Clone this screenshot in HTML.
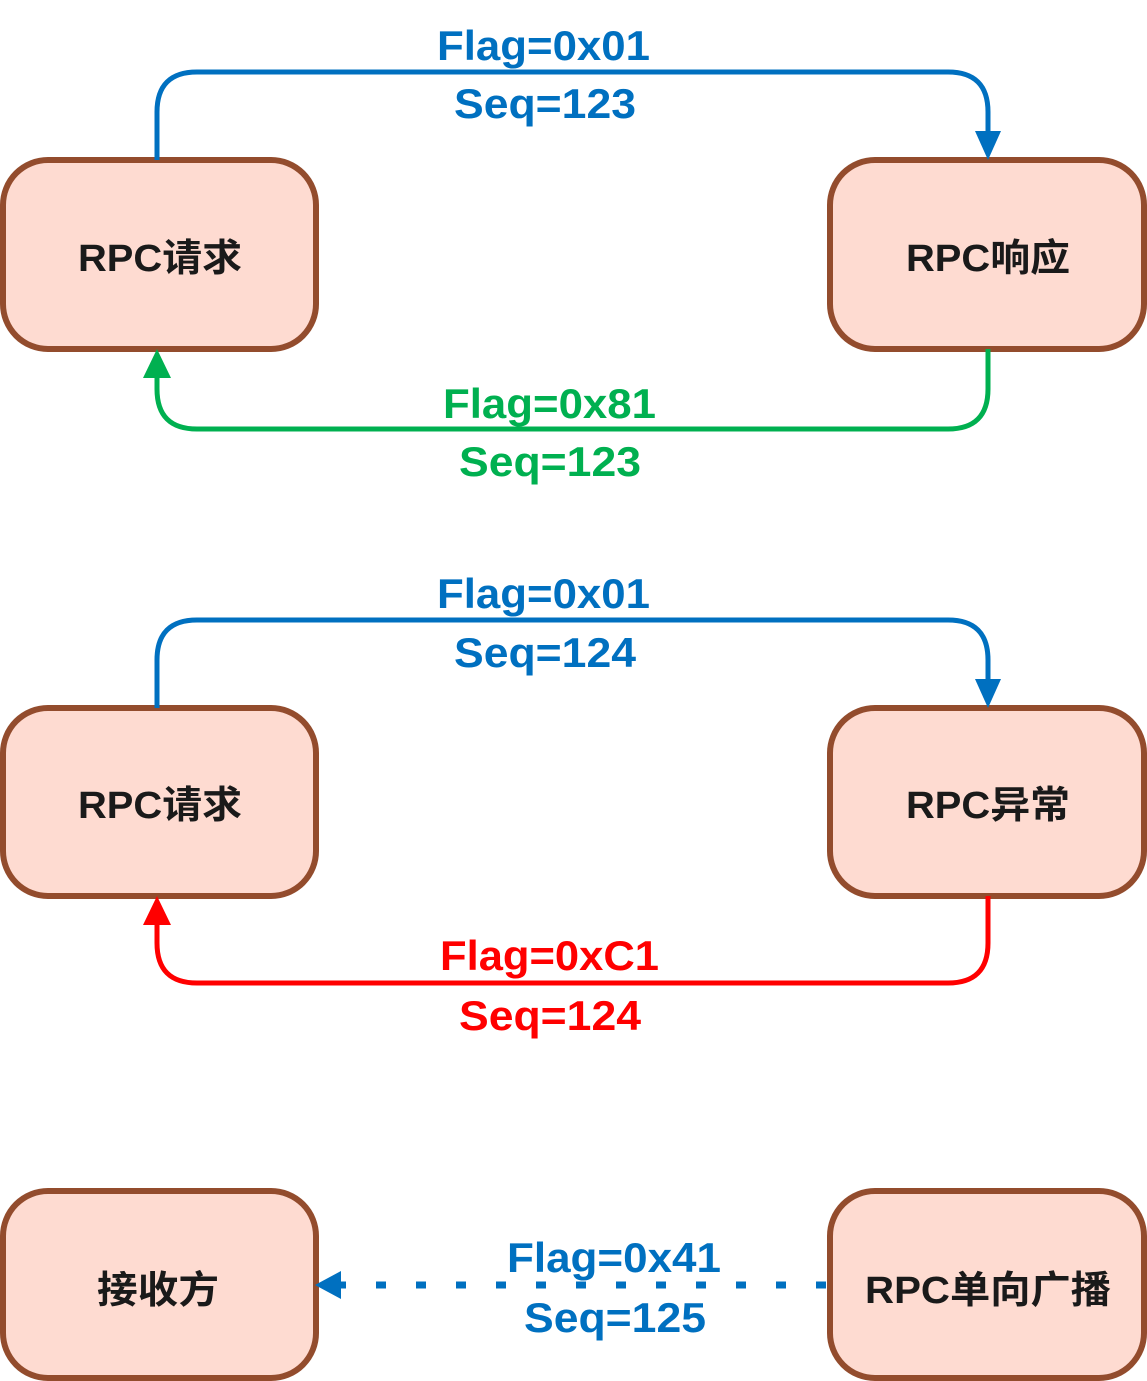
<!DOCTYPE html>
<html><head><meta charset="utf-8"><style>
html,body{margin:0;padding:0;background:#fff;}
svg{display:block;}
text{font-family:"Liberation Sans","Noto Sans CJK SC",sans-serif;font-weight:bold;}
</style></head><body>
<svg width="1147" height="1381" viewBox="0 0 1147 1381" xmlns="http://www.w3.org/2000/svg">
<g fill="#fedbd1" stroke="#934c2d" stroke-width="6">
<rect x="3" y="160" width="313" height="189" rx="45"/>
<rect x="830" y="160" width="314" height="189" rx="45"/>
<rect x="3" y="708" width="313" height="188" rx="45"/>
<rect x="830" y="708" width="314" height="188" rx="45"/>
<rect x="3" y="1191" width="313" height="187" rx="45"/>
<rect x="830" y="1191" width="314" height="187" rx="45"/>
</g>
<g fill="#1a1a1a" font-size="38" text-anchor="middle">
<text x="160" y="271" textLength="164" lengthAdjust="spacingAndGlyphs">RPC请求</text>
<text x="988" y="271" textLength="164" lengthAdjust="spacingAndGlyphs">RPC响应</text>
<text x="160" y="818" textLength="164" lengthAdjust="spacingAndGlyphs">RPC请求</text>
<text x="988" y="818" textLength="164" lengthAdjust="spacingAndGlyphs">RPC异常</text>
<text x="158" y="1303" textLength="122" lengthAdjust="spacingAndGlyphs">接收方</text>
<text x="988" y="1303" textLength="246" lengthAdjust="spacingAndGlyphs">RPC单向广播</text>
</g>
<g fill="none" stroke-width="5">
<path d="M157,160 V112 Q157,72 197,72 H948 Q988,72 988,112 V135" stroke="#0070c0"/>
<path d="M988,349 V389 Q988,429 948,429 H197 Q157,429 157,389 V375" stroke="#00b050"/>
<path d="M157,708 V660 Q157,620 197,620 H948 Q988,620 988,660 V683" stroke="#0070c0"/>
<path d="M988,896 V943 Q988,983 948,983 H197 Q157,983 157,943 V922" stroke="#ff0000"/>
<path d="M340,1285 H830" stroke="#0070c0" stroke-dasharray="10 30" stroke-dashoffset="4" stroke-width="7"/>
</g>
<polygon points="975,131 1001,131 988,160" fill="#0070c0"/>
<polygon points="143,378 171,378 157,349" fill="#00b050"/>
<polygon points="975,679 1001,679 988,708" fill="#0070c0"/>
<polygon points="143,925 171,925 157,896" fill="#ff0000"/>
<polygon points="341,1271 341,1299 315,1285" fill="#0070c0"/>
<g font-size="42">
<text x="437" y="60" fill="#0070c0" textLength="213" lengthAdjust="spacingAndGlyphs">Flag=0x01</text>
<text x="454" y="118" fill="#0070c0" textLength="182" lengthAdjust="spacingAndGlyphs">Seq=123</text>
<text x="443" y="418" fill="#00b050" textLength="213" lengthAdjust="spacingAndGlyphs">Flag=0x81</text>
<text x="459" y="476" fill="#00b050" textLength="182" lengthAdjust="spacingAndGlyphs">Seq=123</text>
<text x="437" y="608" fill="#0070c0" textLength="213" lengthAdjust="spacingAndGlyphs">Flag=0x01</text>
<text x="454" y="667" fill="#0070c0" textLength="182" lengthAdjust="spacingAndGlyphs">Seq=124</text>
<text x="440" y="970" fill="#ff0000" textLength="219" lengthAdjust="spacingAndGlyphs">Flag=0xC1</text>
<text x="459" y="1030" fill="#ff0000" textLength="182" lengthAdjust="spacingAndGlyphs">Seq=124</text>
<text x="507" y="1272" fill="#0070c0" textLength="214" lengthAdjust="spacingAndGlyphs">Flag=0x41</text>
<text x="524" y="1332" fill="#0070c0" textLength="182" lengthAdjust="spacingAndGlyphs">Seq=125</text>
</g>
</svg>
</body></html>
